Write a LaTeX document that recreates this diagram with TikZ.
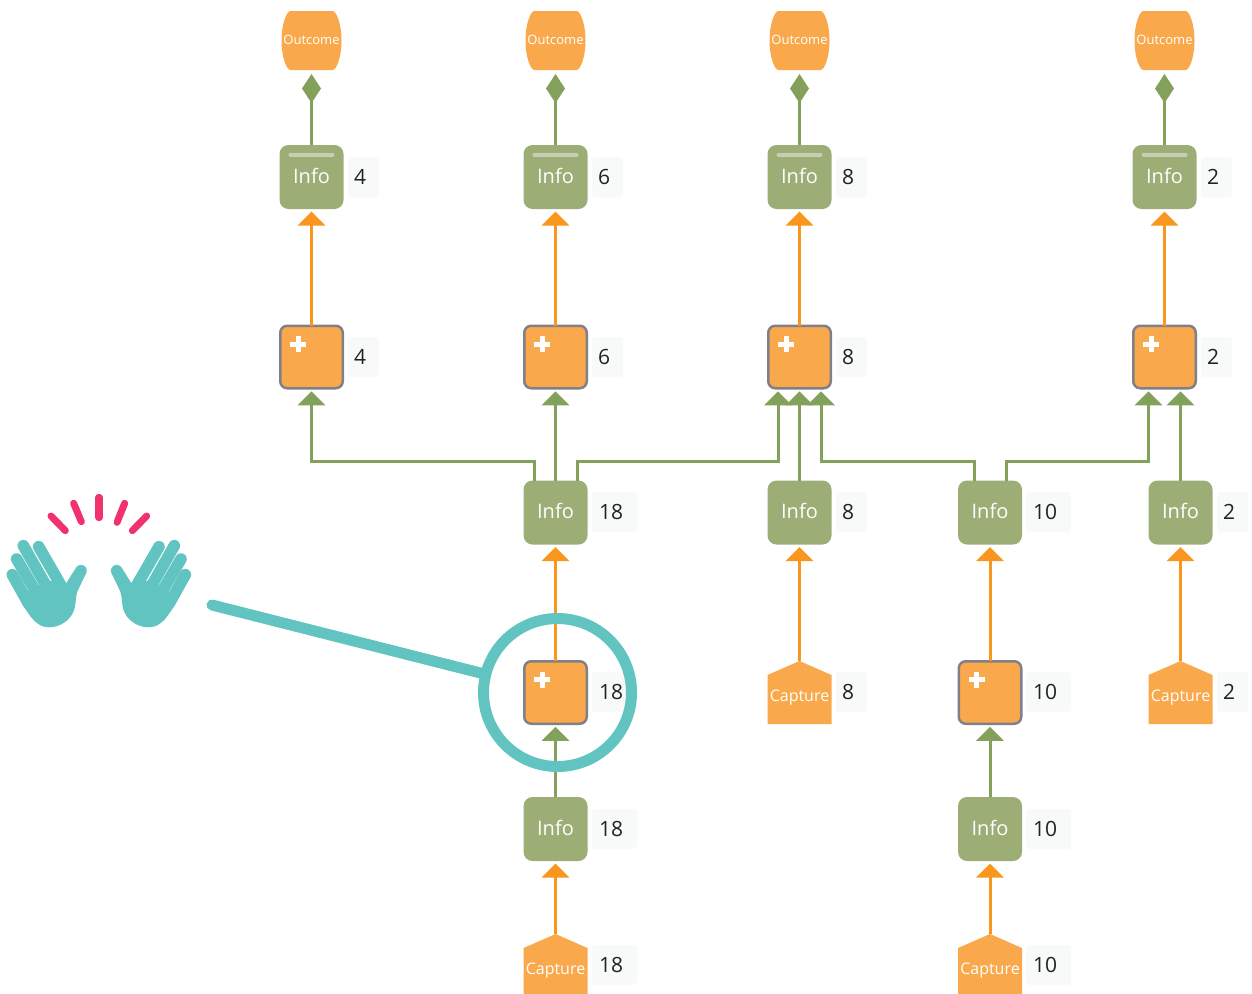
\documentclass[tikz,border=0pt]{standalone}
\usepackage{fontspec}
\setmainfont{Open Sans}
\usetikzlibrary{arrows.meta,calc,shapes.geometric}
\definecolor{oFill}{HTML}{F9A94B}
\definecolor{oLine}{HTML}{F8961D}
\definecolor{gLine}{HTML}{84A15C}
\definecolor{gFill}{HTML}{9CAD76}
\definecolor{gBar}{HTML}{C6CFB3}
\definecolor{bEdge}{HTML}{80808A}
\definecolor{teal}{HTML}{62C4C1}
\definecolor{pinkish}{HTML}{F0326D}
\definecolor{labFill}{HTML}{F8F9F9}
\definecolor{ink}{HTML}{222222}
\tikzset{
  infobox/.style={fill=gFill,rounded corners=9pt,minimum width=64pt,minimum height=64pt,text=white,text depth=2.5pt,font=\fontsize{20}{20}\selectfont,inner sep=0pt,outer sep=0pt},
  plusbox/.style={fill=oFill,draw=bEdge,line width=2.5pt,rounded corners=7pt,minimum width=62.5pt,minimum height=62.5pt,inner sep=0pt,outer sep=0pt},
  capbox/.style={minimum width=64pt,minimum height=74pt,text=white,font=\fontsize{16}{16}\selectfont,inner sep=0pt,outer sep=0pt},
  outbox/.style={minimum width=60pt,minimum height=60pt,text=white,font=\fontsize{13}{13}\selectfont,inner sep=0pt,outer sep=0pt},
  labbox/.style={fill=labFill,rounded corners=3pt,minimum height=40pt,anchor=west,text=ink,font=\fontsize{21}{21}\selectfont,inner sep=0pt,outer sep=0pt},
  orangearrow/.style={draw=oLine,line width=3pt,-{Triangle[width=27pt,length=14pt]},shorten >=2.5pt},
  greenarrow/.style={draw=gLine,line width=3pt,-{Triangle[width=27pt,length=14pt]},shorten >=3pt},
  diamondarrow/.style={draw=gLine,line width=3pt,-{Diamond[width=19pt,length=29pt]},shorten >=4pt},
  fingerstroke/.style={line width=11.6pt,line cap=round,draw=teal},
  burst/.style={line width=7pt,line cap=round,draw=pinkish},
}
\newcommand{\infonode}[3]{\node[infobox] (#1) at (#2,#3) {Info};}
\newcommand{\topinfonode}[3]{\node[infobox] (#1) at (#2,#3) {Info};
  \draw[gBar,line width=4pt,line cap=round] (#2-21,#3-22.5) -- (#2+21,#3-22.5);}
\newcommand{\plusnode}[3]{\node[plusbox] (#1) at (#2,#3) {};
  \fill[white] (#2-13.5-8,#3-13-2.5) rectangle (#2-13.5+8,#3-13+2.5);
  \fill[white] (#2-13.5-2.5,#3-13-8) rectangle (#2-13.5+2.5,#3-13+8);}
\newcommand{\capnode}[3]{\fill[oFill] (#2,#3) -- (#2+32,#3+14) -- (#2+32,#3+63) -- (#2-32,#3+63) -- (#2-32,#3+14) -- cycle;
  \node[capbox] (#1) at (#2,#3+37) {Capture};}
\newcommand{\outnode}[2]{\fill[oFill] (#2-21,11) -- (#2+21,11) .. controls (#2+25,11) and (#2+30,24) .. (#2+30,40.5) .. controls (#2+30,57) and (#2+25,70) .. (#2+21,70) -- (#2-21,70) .. controls (#2-25,70) and (#2-30,57) .. (#2-30,40.5) .. controls (#2-30,24) and (#2-25,11) .. (#2-21,11) -- cycle;
  \node[outbox] (#1) at (#2,40) {Outcome};}
\newcommand{\labnode}[5]{\node[labbox,minimum width=#4pt] (#1) at (#2,#3) {#5\hspace*{7pt}};}
\newcommand{\handshape}{%
  \fill[teal] (83,335) -- (115,315) -- (150,302) -- (200,312) -- (258,280) -- (232,335) .. controls (228,345) and (228,365) .. (224,385) .. controls (215,420) and (180,442) .. (147,442) .. controls (125,442) and (105,430) .. (85,400) -- (70,378) -- cycle;
  \draw[fingerstroke] (37,284) -- (85,370);
  \draw[fingerstroke] (50,237) -- (110,340);
  \draw[fingerstroke] (70,197) -- (140,320);
  \draw[fingerstroke] (116,200) -- (185,320);
  \draw[fingerstroke] (243,272) -- (200,340);
}
\begin{document}
\begin{tikzpicture}[x=1pt,y=-1pt]
\useasboundingbox (0,0) rectangle (1252,993);
% outcomes
\outnode{O1}{311.5}
\outnode{O2}{555.5}
\outnode{O3}{799.5}
\outnode{O4}{1164.5}
% top info
\topinfonode{T1}{311.5}{177}
\topinfonode{T2}{555.5}{177}
\topinfonode{T3}{799.5}{177}
\topinfonode{T4}{1164.5}{177}
\labnode{LT1}{348}{177}{31}{4}
\labnode{LT2}{592}{177}{31}{6}
\labnode{LT3}{836}{177}{31}{8}
\labnode{LT4}{1201}{177}{31}{2}
% plus row
\plusnode{P1}{311.5}{357}
\plusnode{P2}{555.5}{357}
\plusnode{P3}{799.5}{357}
\plusnode{P4}{1164.5}{357}
\labnode{LP1}{348}{357}{31}{4}
\labnode{LP2}{592}{357}{31}{6}
\labnode{LP3}{836}{357}{31}{8}
\labnode{LP4}{1201}{357}{31}{2}
% mid info
\infonode{M1}{555.5}{512.5}
\infonode{M2}{799.5}{512.5}
\infonode{M3}{990}{512.5}
\infonode{M4}{1180.5}{512.5}
\labnode{LM1}{592}{512}{45}{18}
\labnode{LM2}{836}{512}{31}{8}
\labnode{LM3}{1026}{512}{45}{10}
\labnode{LM4}{1217}{512}{31}{2}
% lower plus and captures
\plusnode{P5}{555.5}{692.5}
\plusnode{P6}{990}{692.5}
\capnode{C2}{799.5}{661}
\capnode{C4}{1180.5}{661}
\labnode{LP5}{592}{692}{45}{18}
\labnode{LP6}{1026}{692}{45}{10}
\labnode{LC2}{836}{692}{31}{8}
\labnode{LC4}{1217}{692}{31}{2}
% lower info
\infonode{B1}{555.5}{829}
\infonode{B3}{990}{829}
\labnode{LB1}{592}{829}{45}{18}
\labnode{LB3}{1026}{829}{45}{10}
% bottom captures
\capnode{C1}{555.5}{934}
\capnode{C3}{990}{934}
\labnode{LC1}{592}{965}{45}{18}
\labnode{LC3}{1026}{965}{45}{10}
% connectors: info to outcome
\draw[diamondarrow] (T1) -- (O1);
\draw[diamondarrow] (T2) -- (O2);
\draw[diamondarrow] (T3) -- (O3);
\draw[diamondarrow] (T4) -- (O4);
% plus to top info
\draw[orangearrow] (P1.north) -- (T1.south);
\draw[orangearrow] (P2.north) -- (T2.south);
\draw[orangearrow] (P3.north) -- (T3.south);
\draw[orangearrow] (P4.north) -- (T4.south);
% green branches
\draw[greenarrow] ($(M1.north)+(-21.5,0)$) -- ++(0,-19) -| (P1.south);
\draw[greenarrow] (M1.north) -- (P2.south);
\draw[greenarrow] ($(M1.north)+(21.5,0)$) -- ++(0,-19) -| ($(P3.south)+(-21.5,0)$);
\draw[greenarrow] (M2.north) -- (P3.south);
\draw[greenarrow] ($(M3.north)+(-16,0)$) -- ++(0,-19) -| ($(P3.south)+(21.5,0)$);
\draw[greenarrow] ($(M3.north)+(16,0)$) -- ++(0,-19) -| ($(P4.south)+(-16,0)$);
\draw[greenarrow] (M4.north) -- ($(P4.south)+(16,0)$);
% lower connectors
\draw[orangearrow] (P5.north) -- (M1.south);
\draw[orangearrow] (C2.north) -- (M2.south);
\draw[orangearrow] (P6.north) -- (M3.south);
\draw[orangearrow] (C4.north) -- (M4.south);
\draw[greenarrow] (B1.north) -- (P5.south);
\draw[greenarrow] (B3.north) -- (P6.south);
\draw[orangearrow] (C1.north) -- (B1.south);
\draw[orangearrow] (C3.north) -- (B3.south);
% highlight
\node[circle,draw=teal,line width=11pt,minimum size=148pt,inner sep=0pt,outer sep=0pt] (ring) at (557.5,692.5) {};
\coordinate (pointer) at (212,605);
\draw[teal,line width=11pt,line cap=round] (pointer) -- (ring);
% hands
\begin{scope}[shift={(0,480)},x=.33333pt,y=-.33333pt]
\handshape
\draw[burst] (297,52) -- (297,113);
\draw[burst] (221,70) -- (244,125);
\draw[burst] (153,108) -- (196,152);
\draw[burst] (374,70) -- (351,127);
\draw[burst] (440,108) -- (397,152);
\end{scope}
\begin{scope}[shift={(197.67,480)},x=-.33333pt,y=-.33333pt]
\handshape
\end{scope}
\end{tikzpicture}
\end{document}
